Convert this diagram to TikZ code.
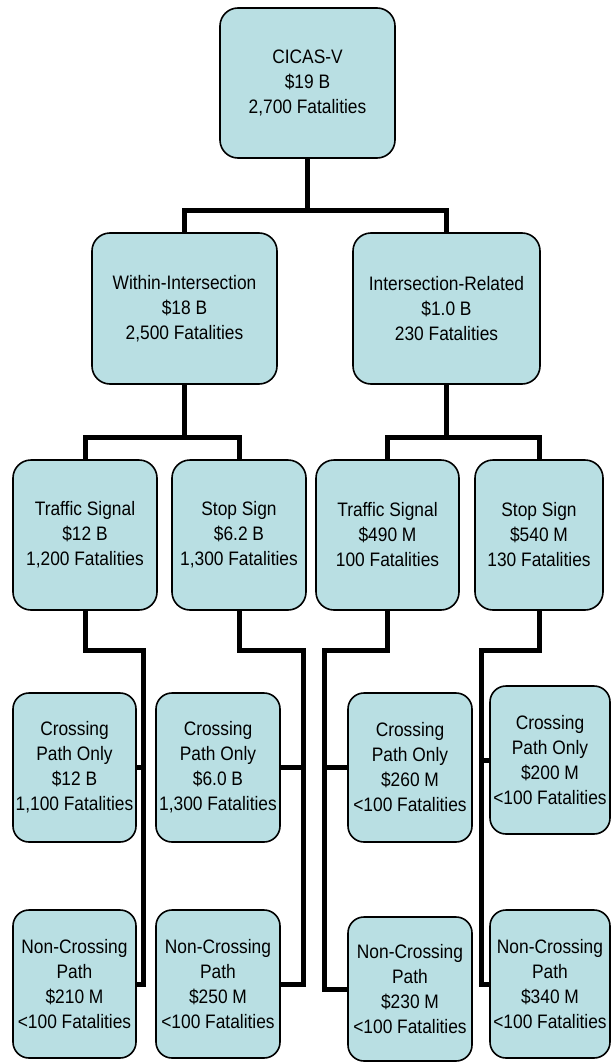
\documentclass[tikz,border=0pt]{standalone}
\usepackage{fontspec}
\setmainfont{Liberation Sans}[FakeStretch=0.89]
\begin{document}
\begin{tikzpicture}[x=1pt,y=-1pt,
  box/.style={draw=black, line width=1.6pt, fill=boxfill, rounded corners=18pt,
    rectangle, inner sep=0pt, align=center,
    font=\fontsize{19.5}{25}\selectfont},
  conn/.style={draw=black, line width=5pt, line join=miter}]
\definecolor{boxfill}{RGB}{185,223,227}
\useasboundingbox (0,0) rectangle (611,1062);
% level 1
\node[box, minimum width=175pt, minimum height=150pt] (top) at (307.5,83) {CICAS-V\\\$19 B\\2,700 Fatalities};
% level 2
\node[box, minimum width=185pt, minimum height=151pt] (wi) at (184.5,308.5) {Within-Intersection\\\$18 B\\2,500 Fatalities};
\node[box, minimum width=187pt, minimum height=151pt] (ir) at (446.5,308.5) {Intersection-Related\\\$1.0 B\\230 Fatalities};
% level 3
\node[box, minimum width=144pt, minimum height=150pt] (ts1) at (85,535) {Traffic Signal\\\$12 B\\1,200 Fatalities};
\node[box, minimum width=134pt, minimum height=150pt] (ss1) at (239,535) {Stop Sign\\\$6.2 B\\1,300 Fatalities};
\node[box, minimum width=143pt, minimum height=150pt] (ts2) at (387.5,535) {Traffic Signal\\\$490 M\\100 Fatalities};
\node[box, minimum width=128pt, minimum height=150pt] (ss2) at (539,535) {Stop Sign\\\$540 M\\130 Fatalities};
% level 4
\node[box, minimum width=123pt, minimum height=149pt, rounded corners=16pt] (c1) at (74.5,767.5) {Crossing\\Path Only\\\$12 B\\1,100 Fatalities};
\node[box, minimum width=124pt, minimum height=149pt, rounded corners=16pt] (c2) at (218,767.5) {Crossing\\Path Only\\\$6.0 B\\1,300 Fatalities};
\node[box, minimum width=124pt, minimum height=149pt, rounded corners=16pt] (c3) at (410,767.5) {Crossing\\Path Only\\\$260 M\\<100 Fatalities};
\node[box, minimum width=120pt, minimum height=148pt, rounded corners=16pt] (c4) at (550,760) {Crossing\\Path Only\\\$200 M\\<100 Fatalities};
\node[box, minimum width=123pt, minimum height=148pt, rounded corners=16pt] (n1) at (74.5,984) {Non-Crossing\\Path\\\$210 M\\<100 Fatalities};
\node[box, minimum width=124pt, minimum height=148pt, rounded corners=16pt] (n2) at (218,984) {Non-Crossing\\Path\\\$250 M\\<100 Fatalities};
\node[box, minimum width=124pt, minimum height=144pt, rounded corners=16pt] (n3) at (410,989) {Non-Crossing\\Path\\\$230 M\\<100 Fatalities};
\node[box, minimum width=120pt, minimum height=148pt, rounded corners=16pt] (n4) at (550,984) {Non-Crossing\\Path\\\$340 M\\<100 Fatalities};
% junction coordinates
\coordinate (b1) at (0,210);
\coordinate (b2) at (0,437);
\coordinate (v1) at (143,650);
\coordinate (v2) at (303,650);
\coordinate (v3) at (324,650);
\coordinate (v4) at (481,650);
% connectors
\draw[conn] (top.south) -- (top.south |- b1);
\draw[conn] (wi.north) -- (wi.north |- b1) -- (ir.north |- b1) -- (ir.north);
\draw[conn] (wi.south) -- (wi.south |- b2);
\draw[conn] (ts1.north) -- (ts1.north |- b2) -- (ss1.north |- b2) -- (ss1.north);
\draw[conn] (ir.south) -- (ir.south |- b2);
\draw[conn] (ts2.north) -- (ts2.north |- b2) -- (ss2.north |- b2) -- (ss2.north);
\draw[conn] (ts1.south) |- (v1) |- (n1.east);
\draw[conn] (c1.east) -- (c1.east -| v1);
\draw[conn] (ss1.south) |- (v2) |- (n2.east);
\draw[conn] (c2.east) -- (c2.east -| v2);
\draw[conn] (ts2.south) |- (v3) |- (n3.west);
\draw[conn] (c3.west) -- (c3.west -| v3);
\draw[conn] (ss2.south) |- (v4) |- (n4.west);
\draw[conn] (c4.west) -- (c4.west -| v4);
\end{tikzpicture}
\end{document}
